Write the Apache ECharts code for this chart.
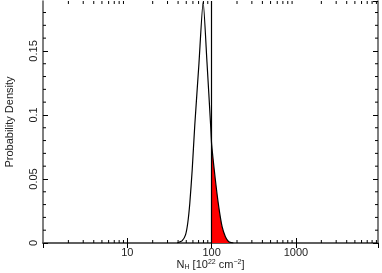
<!DOCTYPE html>
<html>
<head>
<meta charset="utf-8">
<script src="https://cdn.jsdelivr.net/npm/echarts@6/dist/echarts.min.js"></script>
<style>html,body{margin:0;padding:0;background:#fff}#c{width:382px;height:273px}</style>
</head>
<body>
<div id="c"></div>
<script>
// N_H values (10^22 cm^-2) and probability density
const nhValues = [39.1, 44.8, 49.0, 52.1, 55.1, 58.8, 63.1, 70.8, 79.3, 88.0, 97.3, 100, 110.9, 121.4, 133.1, 145.6, 159.4, 181];
const density  = [0, 0.0018, 0.0063, 0.0156, 0.031, 0.057, 0.092, 0.1406, 0.1885, 0.1416, 0.092, 0.077, 0.049, 0.0284, 0.0127, 0.0049, 0.001, 0];
const threshold = 100;
const xMin = 1, xMax = 9400;
const yMin = 0, yMax = 0.189;
const xMinorTicks = [2,3,4,5,6,7,8,9,20,30,40,50,60,70,80,90,200,300,400,500,600,700,800,900,2000,3000,4000,5000,6000,7000,8000,9000];
const yMinorTicks = [0.01,0.02,0.03,0.04,0.06,0.07,0.08,0.09,0.11,0.12,0.13,0.14,0.16,0.17,0.18];

const curve = nhValues.map((v, i) => [v, density[i]]);
const tail = curve.filter(p => p[0] >= threshold);
const minorData = xMinorTicks.map(v => [v, 0, 0]).concat(yMinorTicks.map(v => [1, v, 1]));

const frame = {show: true, lineStyle: {color: '#555', width: 1.5}};
const font = 'Liberation Sans';
const chart = echarts.init(document.getElementById('c'));
chart.setOption({
  animation: false,
  grid: {left: 43, right: 4, top: 1, bottom: 30, containLabel: false, outerBoundsMode: 'none'},
  xAxis: [{
    type: 'log', logBase: 10, min: xMin, max: xMax, position: 'bottom',
    axisLine: frame,
    axisTick: {show: true, inside: true, length: 5, lineStyle: {color: '#000'}},
    axisLabel: {show: true, margin: 4, fontFamily: font, fontSize: 11, color: '#222', showMinLabel: false, showMaxLabel: false,
      formatter: function (v) { return String(Math.round(v)); }},
    splitLine: {show: false},
    name: '{n|N}{sub|H}{n| [10}{sup|22}{n| cm}{sup|−2}{n|]}',
    nameLocation: 'middle', nameGap: 16, nameMoveOverlap: false,
    nameTextStyle: {
      fontFamily: font, color: '#222',
      rich: {
        n: {fontFamily: font, fontSize: 11, color: '#222', lineHeight: 12},
        sub: {fontFamily: font, fontSize: 7, color: '#222', verticalAlign: 'bottom', lineHeight: 12},
        sup: {fontFamily: font, fontSize: 7, color: '#222', verticalAlign: 'top', lineHeight: 12}
      }
    }
  }, {
    type: 'log', logBase: 10, min: xMin, max: xMax, position: 'top',
    axisLine: frame,
    axisTick: {show: true, inside: true, length: 5, lineStyle: {color: '#000'}},
    axisLabel: {show: false}, splitLine: {show: false}
  }],
  yAxis: [{
    type: 'value', min: yMin, max: yMax, interval: 0.05, position: 'left',
    axisLine: frame,
    axisTick: {show: true, inside: true, length: 5, lineStyle: {color: '#000'}},
    axisLabel: {show: true, rotate: 90, margin: 4, fontFamily: font, fontSize: 11, color: '#222', showMaxLabel: false},
    splitLine: {show: false},
    name: 'Probability Density', nameLocation: 'middle', nameGap: 28, nameRotate: 90, nameMoveOverlap: false,
    nameTextStyle: {fontFamily: font, fontSize: 11, color: '#222'}
  }, {
    type: 'value', min: yMin, max: yMax, interval: 0.05, position: 'right',
    axisLine: frame,
    axisTick: {show: true, inside: true, length: 5, lineStyle: {color: '#000'}},
    axisLabel: {show: false}, splitLine: {show: false}
  }],
  series: [{
    type: 'line', data: tail, symbol: 'none', smooth: 0.2,
    lineStyle: {width: 0}, areaStyle: {color: '#ff0000', opacity: 1}, z: 1
  }, {
    type: 'line', data: curve, symbol: 'none', smooth: 0.2,
    lineStyle: {color: '#000', width: 1.2}, z: 3,
    markLine: {
      silent: true, symbol: 'none', label: {show: false},
      lineStyle: {color: '#000', width: 1.2, type: 'solid'},
      data: [{xAxis: threshold}]
    }
  }, {
    type: 'custom', data: minorData, clip: false, silent: true, z: 4,
    renderItem: function (params, api) {
      const kind = api.value(2);
      const v = kind === 0 ? api.value(0) : api.value(1);
      const st = {stroke: '#000', lineWidth: 1};
      if (kind === 0) {
        const b = api.coord([v, yMin]);
        const t = api.coord([v, yMax]);
        return {type: 'group', children: [
          {type: 'line', shape: {x1: b[0], y1: b[1], x2: b[0], y2: b[1] - 3}, style: st},
          {type: 'line', shape: {x1: t[0], y1: t[1], x2: t[0], y2: t[1] + 3}, style: st}
        ]};
      }
      const l = api.coord([xMin, v]);
      const r = api.coord([xMax, v]);
      return {type: 'group', children: [
        {type: 'line', shape: {x1: l[0], y1: l[1], x2: l[0] + 3, y2: l[1]}, style: st},
        {type: 'line', shape: {x1: r[0], y1: r[1], x2: r[0] - 3, y2: r[1]}, style: st}
      ]};
    }
  }]
});
</script>
</body>
</html>
